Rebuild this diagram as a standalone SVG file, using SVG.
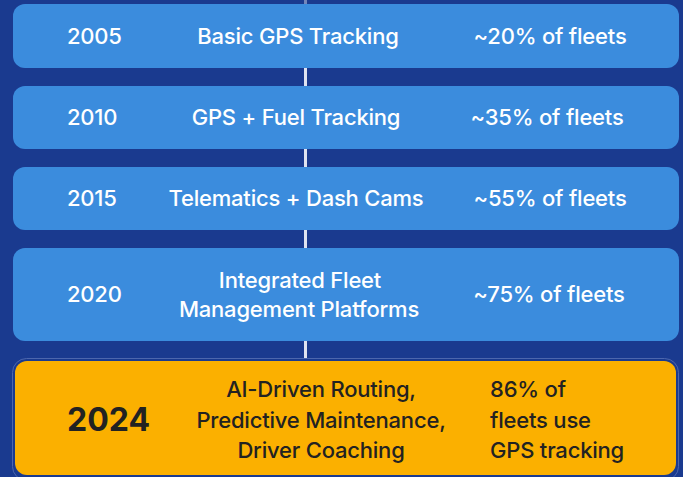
<svg xmlns="http://www.w3.org/2000/svg" width="683" height="477" viewBox="0 0 683 477">
<style>
.box{fill:#3b8cdd;}
.t{font-family:Inter,"Noto Sans","Liberation Sans",sans-serif;font-size:22px;letter-spacing:-0.2px;font-weight:500;fill:#ffffff;}
.m{text-anchor:middle;}
.d{font-family:Inter,"Noto Sans","Liberation Sans",sans-serif;font-size:22px;letter-spacing:-0.2px;font-weight:500;fill:#222222;}
.conn{stroke:#dfe3f0;stroke-width:3;}
</style>
<rect width="683" height="477" fill="#1a3a8f"/>
<g id="connectors">
<line class="conn" x1="305.5" y1="0" x2="305.5" y2="4" opacity="0.45"/>
<line class="conn" x1="305.5" y1="68" x2="305.5" y2="86"/>
<line class="conn" x1="305.5" y1="149" x2="305.5" y2="167"/>
<line class="conn" x1="305.5" y1="230" x2="305.5" y2="248"/>
<line class="conn" x1="305.5" y1="341" x2="305.5" y2="359"/>
</g>
<g id="n2005">
<rect class="box" x="13" y="4" width="666" height="64" rx="12"/>
<text class="t" x="67" y="44">2005</text>
<text class="t m" x="298" y="44">Basic GPS Tracking</text>
<text class="t m" x="550" y="44">~20% of fleets</text>
</g>
<g id="n2010">
<rect class="box" x="13" y="86" width="666" height="63" rx="12"/>
<text class="t" x="67" y="125">2010</text>
<text class="t m" x="296" y="125">GPS + Fuel Tracking</text>
<text class="t m" x="547" y="125">~35% of fleets</text>
</g>
<g id="n2015">
<rect class="box" x="13" y="167" width="666" height="63" rx="12"/>
<text class="t" x="67" y="206">2015</text>
<text class="t m" x="296" y="206">Telematics + Dash Cams</text>
<text class="t m" x="550" y="206">~55% of fleets</text>
</g>
<g id="n2020">
<rect class="box" x="13" y="248" width="666" height="93" rx="12"/>
<text class="t" x="67" y="302">2020</text>
<text class="t m" x="300" y="288">Integrated Fleet</text>
<text class="t m" x="299" y="317">Management Platforms</text>
<text class="t m" x="549" y="302">~75% of fleets</text>
</g>
<g id="n2024">
<rect x="12.5" y="358.5" width="666" height="122" rx="14" fill="none" stroke="#4c66ad" stroke-width="1"/>
<rect x="15" y="361" width="661" height="114" rx="12" fill="#fbb000"/>
<text class="d" x="67" y="431" style="font-size:32px;font-weight:700;letter-spacing:0">2024</text>
<text class="d m" x="321" y="397">AI-Driven Routing,</text>
<text class="d m" x="321" y="428">Predictive Maintenance,</text>
<text class="d m" x="321" y="458">Driver Coaching</text>
<text class="d" x="490" y="397">86% of</text>
<text class="d" x="490" y="428">fleets use</text>
<text class="d" x="490" y="458">GPS tracking</text>
</g>
</svg>
